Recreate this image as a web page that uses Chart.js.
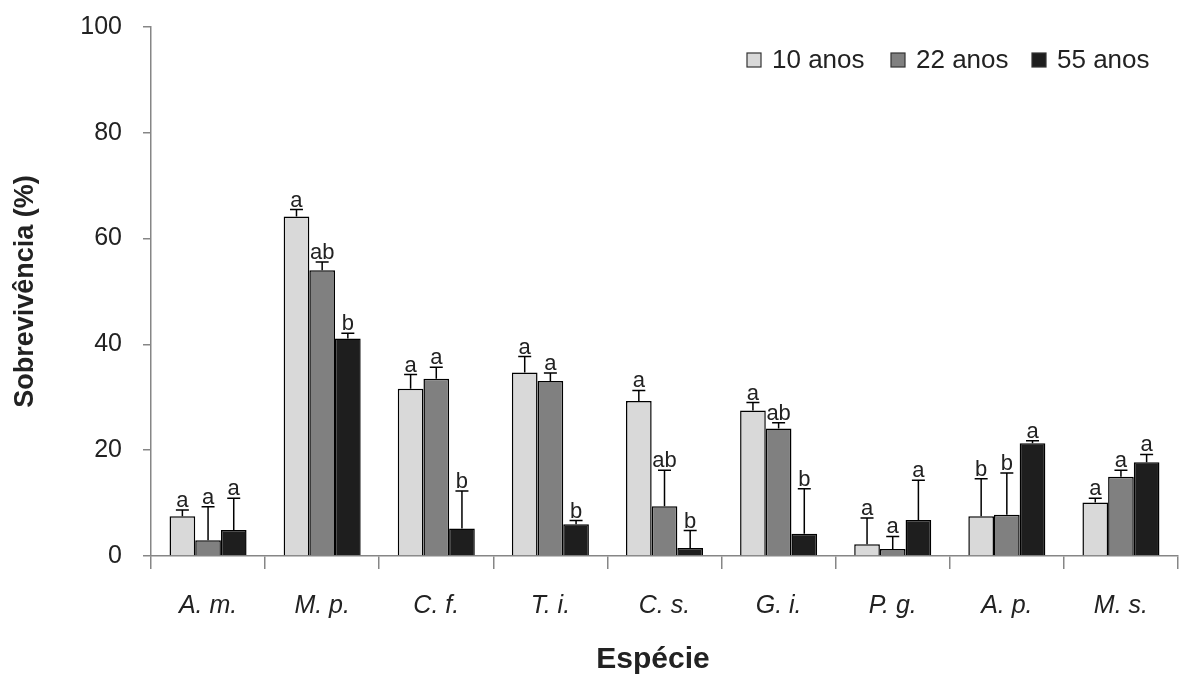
<!DOCTYPE html>
<html>
<head>
<meta charset="utf-8">
<script src="https://cdn.jsdelivr.net/npm/chart.js@4.4.1/dist/chart.umd.min.js"></script>
<style>
  body { margin: 0; background: #fff; }
  #grafico { display: block; }
</style>
</head>
<body>
<canvas id="grafico" width="1180" height="679"></canvas>
<script>
// especies
const especies = ["A. m.", "M. p.", "C. f.", "T. i.", "C. s.", "G. i.", "P. g.", "A. p.", "M. s."];
const series = ["10 anos", "22 anos", "55 anos"];

// sobrevivencia media (%)
const anos10 = [7.5, 64.2, 31.6, 34.7, 29.3, 27.5, 2.2, 7.5, 10.1];
const anos22 = [3.0, 54.0, 33.5, 33.1, 9.4, 24.1, 1.3, 7.8, 15.0];
const anos55 = [4.9, 41.1, 5.2, 6.0, 1.5, 4.2, 6.8, 21.3, 17.7];

// desvio (so para cima)
const erro10 = [1.2, 1.3, 2.7, 3.0, 2.0, 1.5, 5.0, 7.1, 0.8];
const erro22 = [6.3, 1.6, 2.2, 1.5, 6.8, 1.1, 2.4, 7.9, 1.2];
const erro55 = [6.0, 1.0, 7.1, 0.7, 3.3, 8.5, 7.5, 0.5, 1.5];

// letras
const letras10 = ["a", "a", "a", "a", "a", "a", "a", "b", "a"];
const letras22 = ["a", "ab", "a", "a", "ab", "ab", "a", "b", "a"];
const letras55 = ["a", "b", "b", "b", "b", "b", "a", "a", "a"];

const yTicks = [0, 20, 40, 60, 80, 100];

const cores = ["#d9d9d9", "#808080", "#1e1e1e"];
const fonte = "'Liberation Sans', Arial, sans-serif";

const erros = [erro10, erro22, erro55];
const letras = [letras10, letras22, letras55];

// barras de erro + letras
const errosPlugin = {
  id: "erros",
  afterDatasetsDraw(chart) {
    const ctx = chart.ctx;
    const y = chart.scales.y;
    ctx.save();
    ctx.strokeStyle = "#000";
    ctx.lineWidth = 1.5;
    ctx.fillStyle = "#222";
    ctx.font = "22px " + fonte;
    ctx.textAlign = "center";
    ctx.textBaseline = "alphabetic";
    chart.data.datasets.forEach(function (ds, d) {
      const meta = chart.getDatasetMeta(d);
      meta.data.forEach(function (bar, i) {
        const topo = ds.data[i] + erros[d][i];
        const yBar = y.getPixelForValue(ds.data[i]);
        const yTop = y.getPixelForValue(topo);
        ctx.beginPath();
        ctx.moveTo(bar.x, yBar);
        ctx.lineTo(bar.x, yTop);
        ctx.moveTo(bar.x - 6.5, yTop);
        ctx.lineTo(bar.x + 6.5, yTop);
        ctx.stroke();
        ctx.fillText(letras[d][i], bar.x, yTop - 3);
      });
    });
    ctx.restore();
  }
};

// legenda no canto + titulo do eixo x
const legendaPlugin = {
  id: "legenda",
  afterDraw(chart) {
    const ctx = chart.ctx;
    const xs = [747, 891, 1032];
    ctx.save();
    ctx.font = "26px " + fonte;
    ctx.textBaseline = "middle";
    ctx.textAlign = "left";
    series.forEach(function (nome, i) {
      ctx.fillStyle = cores[i];
      ctx.fillRect(xs[i], 53, 14, 14);
      ctx.strokeStyle = "#333";
      ctx.lineWidth = 1.2;
      ctx.strokeRect(xs[i], 53, 14, 14);
      ctx.fillStyle = "#222";
      ctx.fillText(nome, xs[i] + 25, 61);
    });
    ctx.font = "bold 30px " + fonte;
    ctx.textAlign = "center";
    ctx.fillText("Espécie", 653, 660);
    ctx.restore();
  }
};

const config = {
  type: "bar",
  data: {
    labels: especies,
    datasets: [
      { label: series[0], data: anos10, backgroundColor: cores[0] },
      { label: series[1], data: anos22, backgroundColor: cores[1] },
      { label: series[2], data: anos55, backgroundColor: cores[2] }
    ].map(function (ds) {
      ds.borderColor = "#000";
      ds.borderWidth = 1.5;
      ds.barPercentage = 1.0;
      ds.categoryPercentage = 0.675;
      return ds;
    })
  },
  options: {
    responsive: false,
    animation: false,
    layout: { padding: { top: 27, right: 2, bottom: 0, left: 0 } },
    plugins: {
      legend: { display: false },
      tooltip: { enabled: false }
    },
    scales: {
      x: {
        grid: {
          drawOnChartArea: false,
          offset: true,
          tickLength: 13,
          color: "#868686",
          lineWidth: 1.5
        },
        border: { color: "#868686", width: 1.5 },
        ticks: {
          color: "#222",
          padding: 22,
          font: { family: fonte, size: 25, style: "italic" },
          maxRotation: 0
        },
        afterFit(scale) { scale.height = 123; }
      },
      y: {
        min: 0,
        max: 100,
        afterBuildTicks(scale) {
          scale.ticks = yTicks.map(function (v) { return { value: v }; });
        },
        grid: {
          drawOnChartArea: false,
          tickLength: 8,
          color: "#868686",
          lineWidth: 1.5
        },
        border: { color: "#868686", width: 1.5 },
        ticks: {
          color: "#222",
          padding: 21,
          font: { family: fonte, size: 25 }
        },
        title: {
          display: true,
          text: "Sobrevivência (%)",
          color: "#222",
          font: { family: fonte, size: 27, weight: "bold" },
          padding: { top: 9, bottom: 0 }
        },
        afterFit(scale) {
          scale.width = 151;
          scale.paddingTop = 0;
          scale.paddingBottom = 0;
        }
      }
    }
  },
  plugins: [errosPlugin, legendaPlugin]
};

const ctx = document.getElementById("grafico").getContext("2d");
window.chart1 = new Chart(ctx, config);
</script>
</body>
</html>
